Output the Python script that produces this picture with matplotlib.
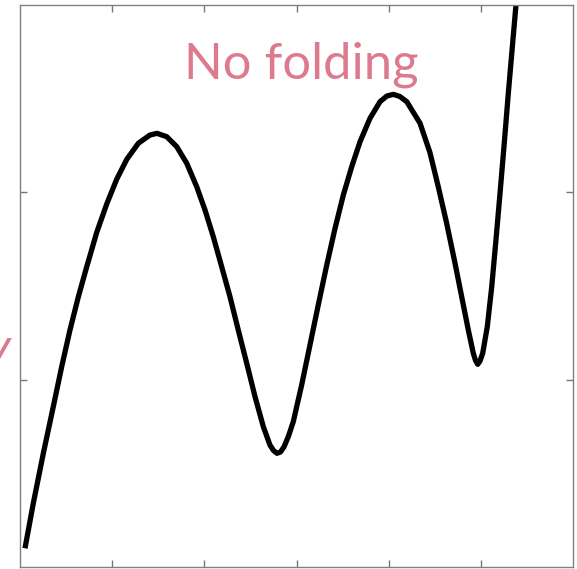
import matplotlib
matplotlib.use('Agg')
import matplotlib.pyplot as plt

# potential curve V(x), sampled along the trace
x_vals = [0.054, 0.144, 0.253, 0.361, 0.452, 0.542, 0.633, 0.724, 0.832, 0.941,
          1.049, 1.158, 1.284, 1.410, 1.486, 1.592, 1.700, 1.809, 1.917, 2.007,
          2.097, 2.188, 2.278, 2.368, 2.460, 2.550, 2.640, 2.712, 2.750, 2.788,
          2.826, 2.864, 2.911, 2.965, 3.056, 3.146, 3.236, 3.328, 3.418, 3.508,
          3.599, 3.689, 3.797, 3.906, 3.980, 4.050, 4.120, 4.196, 4.340, 4.448,
          4.538, 4.629, 4.720, 4.792, 4.864, 4.918, 4.942, 4.966, 4.991, 5.020,
          5.070, 5.118, 5.164, 5.208, 5.254, 5.298, 5.345, 5.381, 5.400]
v_vals = [0.100, 0.340, 0.607, 0.856, 1.069, 1.265, 1.443, 1.603, 1.786, 1.938,
          2.070, 2.176, 2.262, 2.306, 2.315, 2.297, 2.244, 2.155, 2.030, 1.906,
          1.763, 1.603, 1.443, 1.265, 1.087, 0.909, 0.749, 0.651, 0.622, 0.607,
          0.614, 0.641, 0.696, 0.776, 0.972, 1.185, 1.399, 1.612, 1.808, 1.986,
          2.137, 2.270, 2.395, 2.484, 2.514, 2.523, 2.512, 2.484, 2.369, 2.212,
          2.030, 1.835, 1.621, 1.443, 1.265, 1.141, 1.103, 1.082, 1.100, 1.141,
          1.283, 1.496, 1.746, 1.995, 2.262, 2.529, 2.796, 3.000, 3.120]

x_ticks = [1, 2, 3, 4, 5]
y_ticks = [1, 2]
title_text = 'No folding'
ylabel_text = 'V'
pink = '#de7a8e'

fig = plt.figure(figsize=(5.77, 5.69), dpi=100)
ax = fig.add_axes([0.0347, 0.0035, 0.9584, 0.9877])
ax.plot(x_vals, v_vals, color='black', lw=3.8, solid_capstyle='butt', solid_joinstyle='round')
ax.set_xlim(0, 6)
ax.set_ylim(0, 3)
ax.set_xticks(x_ticks)
ax.set_yticks(y_ticks)
ax.set_xticklabels([])
ax.set_yticklabels([])
ax.tick_params(direction='in', length=5, width=1, color='#777777',
               top=True, right=True)
for sp in ax.spines.values():
    sp.set_color('#808080')
    sp.set_linewidth(1.0)

ax.text(0.508, 0.8696, title_text, transform=ax.transAxes, ha='center', va='baseline',
        fontsize=36.5, color=pink, family='Lato')
fig.text(0.016, 0.372, ylabel_text, ha='right', va='center', fontsize=30,
         color=pink, style='italic', family='DejaVu Sans')

fig.savefig('out.png', dpi=100)
